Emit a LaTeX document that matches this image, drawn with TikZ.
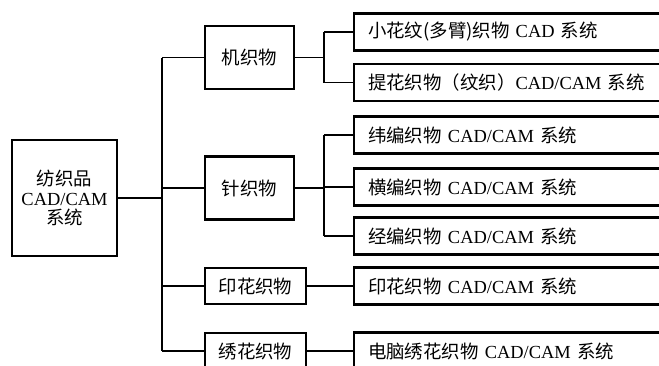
\documentclass[tikz,border=0pt]{standalone}
\usepackage{fontspec}
\setmainfont{Liberation Serif}
\newfontfamily\cjk{Noto Sans CJK SC}
\usepackage{tikz}
\usetikzlibrary{positioning}

\newcommand\zh[1]{{\cjk #1}}

\tikzset{
  box/.style={draw,line width=2.2pt,inner sep=0pt,
              font=\fontsize{18.5}{18}\selectfont},
  midbox/.style={box,minimum width=89bp,minimum height=63bp},
  sysbox/.style={box,anchor=west,text width=300bp,align=left,
                 inner xsep=14bp,minimum height=37bp},
  link/.style={line width=1.4pt}
}

\begin{document}
\begin{tikzpicture}[x=1bp,y=-1bp]
\useasboundingbox (0,0) rectangle (659,365);

% root
\node[box,line width=2.8pt,minimum width=105bp,minimum height=116bp,align=center,
      font=\fontsize{18.5}{20}\selectfont]
  (root) at (64.5,198) {\zh{纺织品}\\CAD/CAM\\\zh{系统}};

% second level
\node[midbox] (m1) at (249.5,57.5) {\zh{机织物}};
\node[midbox] (m2) at (249.5,188) {\zh{针织物}};
\node[box,minimum width=101bp,minimum height=36bp] (m3) at (255.5,286) {\zh{印花织物}};
\node[box,minimum width=101bp,minimum height=36bp] (m4) at (255.5,351) {\zh{绣花织物}};

% systems
\foreach \n/\y/\t in {r1/32/{\zh{小花纹(多臂)织物} CAD \zh{系统}},
                      r2/82.5/{\zh{提花织物（纹织）}CAD/CAM \zh{系统}},
                      r3/135/{\zh{纬编织物} CAD/CAM \zh{系统}},
                      r4/187/{\zh{横编织物} CAD/CAM \zh{系统}},
                      r5/236/{\zh{经编织物} CAD/CAM \zh{系统}},
                      r6/286/{\zh{印花织物} CAD/CAM \zh{系统}},
                      r7/351/{\zh{电脑绣花织物} CAD/CAM \zh{系统}}}
  \node[sysbox] (\n) at (353,\y) {\t};

% trunks
\coordinate (t) at (162,0);
\coordinate (s) at (324,0);

\draw[link] (root.east) -- (root.east -| t);
\draw[link] (m1.west -| t) -- (m4.west -| t);
\foreach \m in {m1,m2,m3,m4}
  \draw[link] (\m.west -| t) -- (\m.west);

\draw[link] (m1.east) -- (m1.east -| s);
\draw[link] (r1.west -| s) -- (r2.west -| s);
\draw[link] (m2.east) -- (m2.east -| s);
\draw[link] (r3.west -| s) -- (r5.west -| s);
\foreach \r in {r1,r2,r3,r4,r5}
  \draw[link] (\r.west -| s) -- (\r.west);

\draw[link] (m3.east) -- (r6.west);
\draw[link] (m4.east) -- (r7.west);
\end{tikzpicture}
\end{document}
